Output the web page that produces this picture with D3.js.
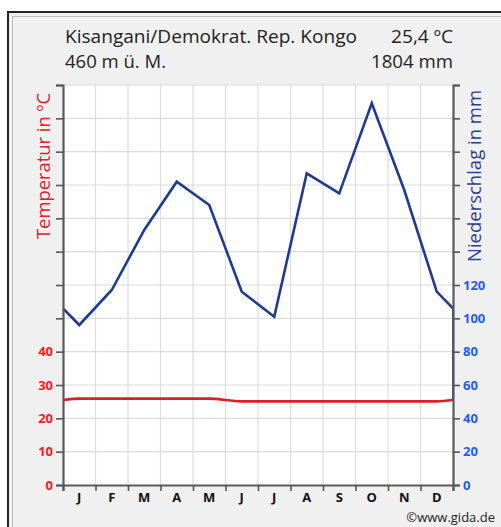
<!DOCTYPE html>
<html><head><meta charset="utf-8">
<script src="https://cdn.jsdelivr.net/npm/d3@7/dist/d3.min.js"></script>
<style>html,body{margin:0;padding:0;background:#fff;}svg{display:block;}</style>
</head><body>
<script>
const months = ["J","F","M","A","M","J","J","A","S","O","N","D"];
const temperature = [25.9,25.9,25.9,25.9,25.9,25.1,25.1,25.1,25.1,25.1,25.1,25.1];
const precipitation = [96,117,153,182,168,116,101,187,175,229,177,116];
const tempTicks = [0,10,20,30,40];
const precipTicks = [0,20,40,60,80,100,120];
const titleText = "Kisangani/Demokrat. Rep. Kongo";
const subText = "460 m ü. M.";
const meanTempText = "25,4 ºC";
const sumPrecipText = "1804 mm";

const W = 501, H = 527;
const L = 63, R = 453, T = 85, B = 485;
const font = "'Open Sans', sans-serif";

const svg = d3.select("body").append("svg").attr("width", W).attr("height", H);

// frame
svg.append("rect").attr("x",0).attr("y",0).attr("width",W).attr("height",H).attr("fill","#fff");
svg.append("rect").attr("x",8).attr("y",12).attr("width",W+20).attr("height",H+20)
  .attr("fill","#f0f0f0").attr("stroke","#222").attr("stroke-width",2);
svg.append("rect").attr("x",12.5).attr("y",16.5).attr("width",W+20).attr("height",H+20)
  .attr("fill","none").attr("stroke","#bdbdbd").attr("stroke-width",1);

const x = d3.scaleLinear().domain([0,12]).range([L,R]);
const yT = d3.scaleLinear().domain([0,120]).range([B,T]);
const yP = d3.scaleLinear().domain([0,240]).range([B,T]);

svg.append("rect").attr("x",L).attr("y",T).attr("width",R-L).attr("height",B-T).attr("fill","#fff");

// grid
const g = svg.append("g").attr("stroke","#dcdcdc").attr("stroke-width",1.2);
d3.range(1,13).forEach(v => g.append("line").attr("x1",L).attr("x2",R).attr("y1",yT(v*10)).attr("y2",yT(v*10)));
d3.range(1,12).forEach(m => g.append("line").attr("x1",x(m)).attr("x2",x(m)).attr("y1",T).attr("y2",B));

// series with edge points
const tEdge = (temperature[0]+temperature[11])/2;
const pEdge = (precipitation[0]+precipitation[11])/2;
const tData = [[0,tEdge]].concat(temperature.map((v,i)=>[i+0.5,v]), [[12,tEdge]]);
const pData = [[0,pEdge]].concat(precipitation.map((v,i)=>[i+0.5,v]), [[12,pEdge]]);

// right edge connector
svg.append("line").attr("x1",R).attr("x2",R).attr("y1",yP(pEdge)).attr("y2",yT(tEdge))
  .attr("stroke","#2a4cc0").attr("stroke-width",2);

svg.append("path").datum(pData)
  .attr("d", d3.line().x(d=>x(d[0])).y(d=>yP(d[1])))
  .attr("fill","none").attr("stroke","#1f3a8f").attr("stroke-width",2.6).attr("stroke-linejoin","miter");
svg.append("path").datum(tData)
  .attr("d", d3.line().x(d=>x(d[0])).y(d=>yT(d[1])).curve(d3.curveMonotoneX))
  .attr("fill","none").attr("stroke","#d7202a").attr("stroke-width",2.6);

// axes
const axL = d3.axisLeft(yT).tickValues(d3.range(0,121,10)).tickSize(7).tickPadding(3)
  .tickFormat(d => tempTicks.includes(d) ? d : "");
const gl = svg.append("g").attr("transform",`translate(${L},0)`).call(axL);
const axR = d3.axisRight(yP).tickValues(d3.range(0,241,20)).tickSize(7).tickPadding(3)
  .tickFormat(d => precipTicks.includes(d) ? d : "");
const gr = svg.append("g").attr("transform",`translate(${R},0)`).call(axR);
const axB = d3.axisBottom(x).tickValues(d3.range(0,13)).tickSize(6).tickFormat("");
const gb = svg.append("g").attr("transform",`translate(0,${B})`).call(axB);

[gl,gr,gb].forEach(a => {
  a.select(".domain").attr("stroke","#5a5a5a").attr("stroke-width",2.2);
  a.selectAll(".tick line").attr("stroke","#555").attr("stroke-width",1.6);
});
gl.selectAll("text").attr("fill","#ff1a1a").attr("font-family",font).attr("font-weight","bold").attr("font-size",13);
gr.selectAll("text").attr("fill","#1f5cff").attr("font-family",font).attr("font-weight","bold").attr("font-size",13);

// month labels
svg.append("g").selectAll("text").data(months).join("text")
  .attr("x",(d,i)=>x(i+0.5)).attr("y",502).attr("text-anchor","middle")
  .attr("font-family",font).attr("font-weight","bold").attr("font-size",13).attr("fill","#111")
  .text(d=>d);

// header
function txt(t, xx, yy, anchor, len, size, fill){
  return svg.append("text").attr("x",xx).attr("y",yy).attr("text-anchor",anchor)
    .attr("font-family",font).attr("font-size",size).attr("fill",fill)
    .attr("textLength",len).attr("lengthAdjust","spacingAndGlyphs").text(t);
}
txt(titleText, 65, 43, "start", 292, 19, "#222");
txt(meanTempText, 453, 43, "end", 62, 19, "#222");
txt(subText, 65, 68, "start", 101, 19, "#222");
txt(sumPrecipText, 453, 68, "end", 82, 19, "#222");

// axis titles
svg.append("text").attr("transform","translate(50,166) rotate(-90)").attr("text-anchor","middle")
  .attr("font-family",font).attr("font-size",18).attr("fill","#e0202a")
  .attr("textLength",146).attr("lengthAdjust","spacingAndGlyphs").text("Temperatur in ºC");
svg.append("text").attr("transform","translate(481,176) rotate(-90)").attr("text-anchor","middle")
  .attr("font-family",font).attr("font-size",18).attr("fill","#2a3f92")
  .attr("textLength",172).attr("lengthAdjust","spacingAndGlyphs").text("Niederschlag in mm");

svg.append("text").attr("x",495).attr("y",522).attr("text-anchor","end")
  .attr("font-family",font).attr("font-size",13).attr("fill","#222").text("©www.gida.de");
</script>
</body></html>
